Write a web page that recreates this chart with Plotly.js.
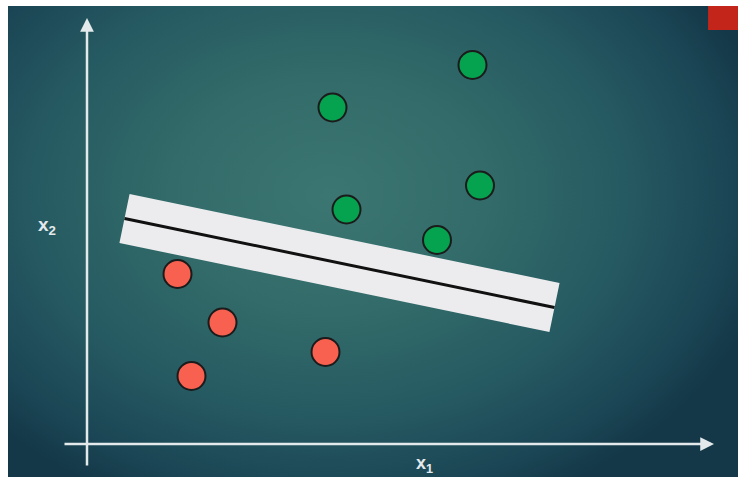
<!DOCTYPE html>
<html>
<head>
<meta charset="utf-8">
<script src="https://cdn.plot.ly/plotly-3.0.1.min.js"></script>
<style>
  html, body { margin: 0; padding: 0; background: #ffffff; }
  #graph {
    position: absolute;
    left: 8px;
    top: 6px;
    width: 730px;
    height: 471px;
    overflow: hidden;
    background:
      radial-gradient(ellipse 62% 72% at 44% 40%, #3c7672 0%, #326b69 35%, #265a62 65%, #1b4655 88%, #143848 100%);
  }
</style>
</head>
<body>
<div id="graph"></div>
<script>
// class +1 (green) and class -1 (red) samples, in x1 / x2 units
var greenX = [7.71, 4.91, 7.86, 5.19, 7.00];
var greenY = [7.58, 6.73, 5.17, 4.69, 4.08];
var redX = [1.81, 2.71, 4.77, 2.09];
var redY = [3.40, 2.43, 1.84, 1.36];

// separating hyperplane end points and half-width of the margin
var lineX = [0.75, 9.35];
var lineY = [4.51, 2.73];
var marginHalf = 0.5;

// axis arrows: [start, end]
var x1Axis = [-0.48, 12.54];
var x2Axis = [-0.46, 8.52];

var x1Label = 'x<sub>1</sub>';
var x2Label = 'x<sub>2</sub>';

/* -------------Margin band------------ */

var dx = lineX[1] - lineX[0];
var dy = lineY[1] - lineY[0];
var len = Math.sqrt(dx*dx + dy*dy);
var nx = -dy/len*marginHalf;
var ny = dx/len*marginHalf;

var band = {
    x: [lineX[0]+nx, lineX[1]+nx, lineX[1]-nx, lineX[0]-nx, lineX[0]+nx],
    y: [lineY[0]+ny, lineY[1]+ny, lineY[1]-ny, lineY[0]-ny, lineY[0]+ny],
    mode: 'lines',
    fill: 'toself',
    fillcolor: '#ececee',
    line: {width: 0, color: '#ececee'},
    hoverinfo: 'skip'
};

var hyperplane = {
    x: lineX,
    y: lineY,
    mode: 'lines',
    line: {color: '#111111', width: 3}
};

var green = {
    x: greenX,
    y: greenY,
    mode: 'markers',
    marker: {size: 28, color: '#05a24f', line: {color: '#1b1b1b', width: 2}}
};

var red = {
    x: redX,
    y: redY,
    mode: 'markers',
    marker: {size: 28, color: '#f8604f', line: {color: '#1b1b1b', width: 2}}
};

var data = [band, hyperplane, green, red];

var axisColor = '#e4eaec';

var layout = {
    width: 730,
    height: 471,
    margin: {l: 0, r: 0, t: 0, b: 0},
    paper_bgcolor: 'rgba(0,0,0,0)',
    plot_bgcolor: 'rgba(0,0,0,0)',
    showlegend: false,
    xaxis: {range: [-1.58, 13.02], visible: false, fixedrange: true},
    yaxis: {range: [-0.66, 8.76], visible: false, fixedrange: true},
    annotations: [
        {
            x: x1Axis[1], y: 0, ax: x1Axis[0], ay: 0,
            xref: 'x', yref: 'y', axref: 'x', ayref: 'y',
            text: '', showarrow: true,
            arrowhead: 2, arrowsize: 1.1, arrowwidth: 2.5, arrowcolor: axisColor
        },
        {
            x: 0, y: x2Axis[1], ax: 0, ay: x2Axis[0],
            xref: 'x', yref: 'y', axref: 'x', ayref: 'y',
            text: '', showarrow: true,
            arrowhead: 2, arrowsize: 1.1, arrowwidth: 2.5, arrowcolor: axisColor
        },
        {
            x: 6.74, y: -0.40, xref: 'x', yref: 'y',
            text: '<b>' + x1Label + '</b>', showarrow: false,
            font: {family: 'Liberation Sans, Arial, sans-serif', size: 18, color: axisColor}
        },
        {
            x: -0.80, y: 4.36, xref: 'x', yref: 'y',
            text: '<b>' + x2Label + '</b>', showarrow: false,
            font: {family: 'Liberation Sans, Arial, sans-serif', size: 19, color: axisColor}
        }
    ],
    shapes: [
        {
            type: 'rect', xref: 'paper', yref: 'paper',
            x0: 0.959, x1: 1.0, y0: 0.949, y1: 1.0,
            fillcolor: '#c4251a', line: {width: 0}
        }
    ]
};

graph = document.getElementById('graph');
Plotly.newPlot(graph, data, layout, {staticPlot: true});
</script>
</body>
</html>
